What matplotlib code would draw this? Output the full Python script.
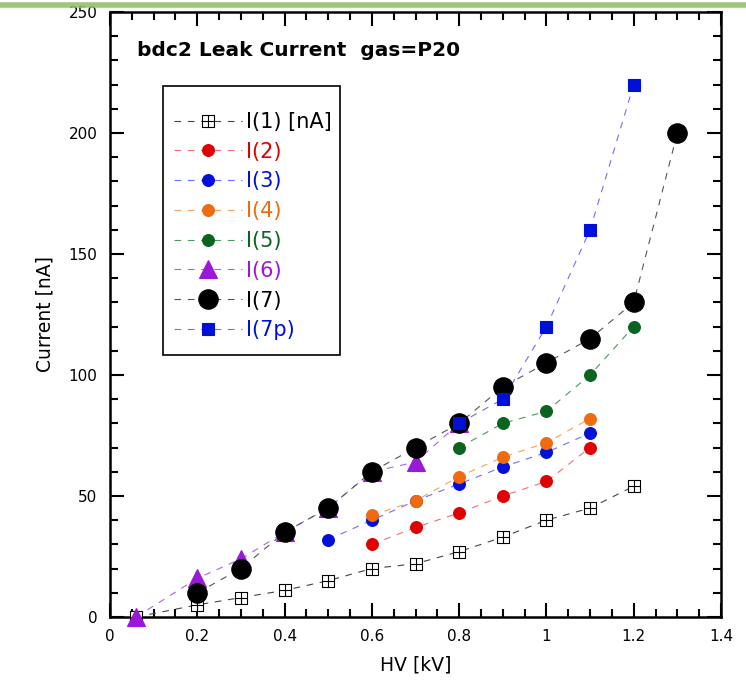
import numpy as np
import matplotlib.pyplot as plt
from matplotlib.path import Path
from matplotlib.ticker import MultipleLocator
from matplotlib.lines import Line2D
from matplotlib.patches import Rectangle

plt.rcParams['font.family'] = ['DejaVu Sans']

# data: HV [kV] -> current [nA]
hv1 = [0.06, 0.2, 0.3, 0.4, 0.5, 0.6, 0.7, 0.8, 0.9, 1.0, 1.1, 1.2]
i1 = [0, 5, 8, 11, 15, 20, 22, 27, 33, 40, 45, 54]
hv2 = [0.6, 0.7, 0.8, 0.9, 1.0, 1.1]
i2 = [30, 37, 43, 50, 56, 70]
hv3 = [0.5, 0.6, 0.7, 0.8, 0.9, 1.0, 1.1]
i3 = [32, 40, 48, 55, 62, 68, 76]
hv4 = [0.6, 0.7, 0.8, 0.9, 1.0, 1.1]
i4 = [42, 48, 58, 66, 72, 82]
hv5 = [0.8, 0.9, 1.0, 1.1, 1.2]
i5 = [70, 80, 85, 100, 120]
hv6 = [0.06, 0.2, 0.3, 0.4, 0.5, 0.6, 0.7, 0.8]
i6 = [0, 16, 24, 35, 45, 60, 64, 80]
hv7 = [0.2, 0.3, 0.4, 0.5, 0.6, 0.7, 0.8, 0.9, 1.0, 1.1, 1.2, 1.3]
i7 = [10, 20, 35, 45, 60, 70, 80, 95, 105, 115, 130, 200]
hv7p = [0.8, 0.9, 1.0, 1.1, 1.2]
i7p = [80, 90, 120, 160, 220]

labels = ['I(1) [nA]', 'I(2)', 'I(3)', 'I(4)', 'I(5)', 'I(6)', 'I(7)', 'I(7p)']

# square with a cross inside
box_plus = Path(
    [(-1, -1), (1, -1), (1, 1), (-1, 1), (-1, -1), (0, -1), (0, 1), (-1, 0), (1, 0)],
    [Path.MOVETO, Path.LINETO, Path.LINETO, Path.LINETO, Path.CLOSEPOLY,
     Path.MOVETO, Path.LINETO, Path.MOVETO, Path.LINETO])

series = [
    (hv1, i1, box_plus, 9, 'white', 'black', '#444444', 'black'),
    (hv2, i2, 'o', 8.5, '#e00000', '#e00000', '#f07070', '#e00000'),
    (hv3, i3, 'o', 8.5, '#0010d8', '#0010d8', '#6a70ff', '#0010d8'),
    (hv4, i4, 'o', 8.5, '#f06a10', '#f06a10', '#f5a060', '#f06a10'),
    (hv5, i5, 'o', 8.5, '#0a6420', '#0a6420', '#4a9a5a', '#0a6420'),
    (hv6, i6, '^', 13, '#9a18d8', '#9a18d8', '#b060e8', '#9a18d8'),
    (hv7, i7, 'o', 14, 'black', 'black', '#555555', 'black'),
    (hv7p, i7p, 's', 8.5, '#0010d8', '#0010d8', '#6a70ff', '#0010d8'),
]

fig = plt.figure(figsize=(7.46, 6.84), dpi=100)
ax = fig.add_axes([0.1475, 0.098, 0.819, 0.8845])

handles = []
for (x, y, mk, ms, fc, ec, lc, tc), lab in zip(series, labels):
    ax.plot(x, y, linestyle=(0, (6, 6)), color=lc, linewidth=0.8, zorder=2)
    ax.plot(x, y, linestyle='none', marker=mk, markersize=ms, markerfacecolor=fc,
            markeredgecolor=ec, markeredgewidth=0.8, zorder=3, clip_on=False)
    handles.append(Line2D([], [], linestyle=(0, (6, 6)), color=lc, linewidth=0.8,
                          marker=mk, markersize=ms, markerfacecolor=fc,
                          markeredgecolor=ec, markeredgewidth=0.8))

ax.set_xlim(0, 1.4)
ax.set_ylim(0, 250)
ax.xaxis.set_major_locator(MultipleLocator(0.2))
ax.xaxis.set_minor_locator(MultipleLocator(0.05))
ax.yaxis.set_major_locator(MultipleLocator(50))
ax.yaxis.set_minor_locator(MultipleLocator(10))
ax.set_xticks([0, 0.2, 0.4, 0.6, 0.8, 1.0, 1.2, 1.4])
ax.set_xticklabels(['0', '0.2', '0.4', '0.6', '0.8', '1', '1.2', '1.4'])
ax.tick_params(which='both', direction='in', top=True, right=True, width=1.5,
               labelsize=11, pad=9)
ax.tick_params(which='major', length=10)
ax.tick_params(which='minor', length=6)
for sp in ax.spines.values():
    sp.set_linewidth(1.8)

ax.set_xlabel('HV [kV]', fontsize=13.5, labelpad=8)
ax.set_ylabel('Current [nA]', fontsize=13.5, labelpad=10)

ax.text(0.044, 0.937, 'bdc2 Leak Current  gas=P20', transform=ax.transAxes,
        fontsize=14.5, fontweight='bold', va='center', ha='left')

# legend box drawn by hand, entries placed inside it
ax.add_patch(Rectangle((0.0867, 0.433), 0.2897, 0.4447, transform=ax.transAxes,
                       facecolor='white', edgecolor='black', linewidth=1.2, zorder=4))
leg = ax.legend(handles, labels, loc='upper left', bbox_to_anchor=(0.104, 0.835),
                fontsize=15, handlelength=3.3, handletextpad=0.2, labelspacing=0.47,
                borderpad=0, frameon=False, borderaxespad=0)
leg.set_zorder(5)
for txt, s in zip(leg.get_texts(), series):
    txt.set_color(s[7])

# green bar along the top edge of the slide
fig.add_artist(Line2D([0.0, 1.0], [0.993, 0.993], transform=fig.transFigure,
                      color='#93c06a', linewidth=4, alpha=0.9))

fig.savefig('out.png', dpi=100)
